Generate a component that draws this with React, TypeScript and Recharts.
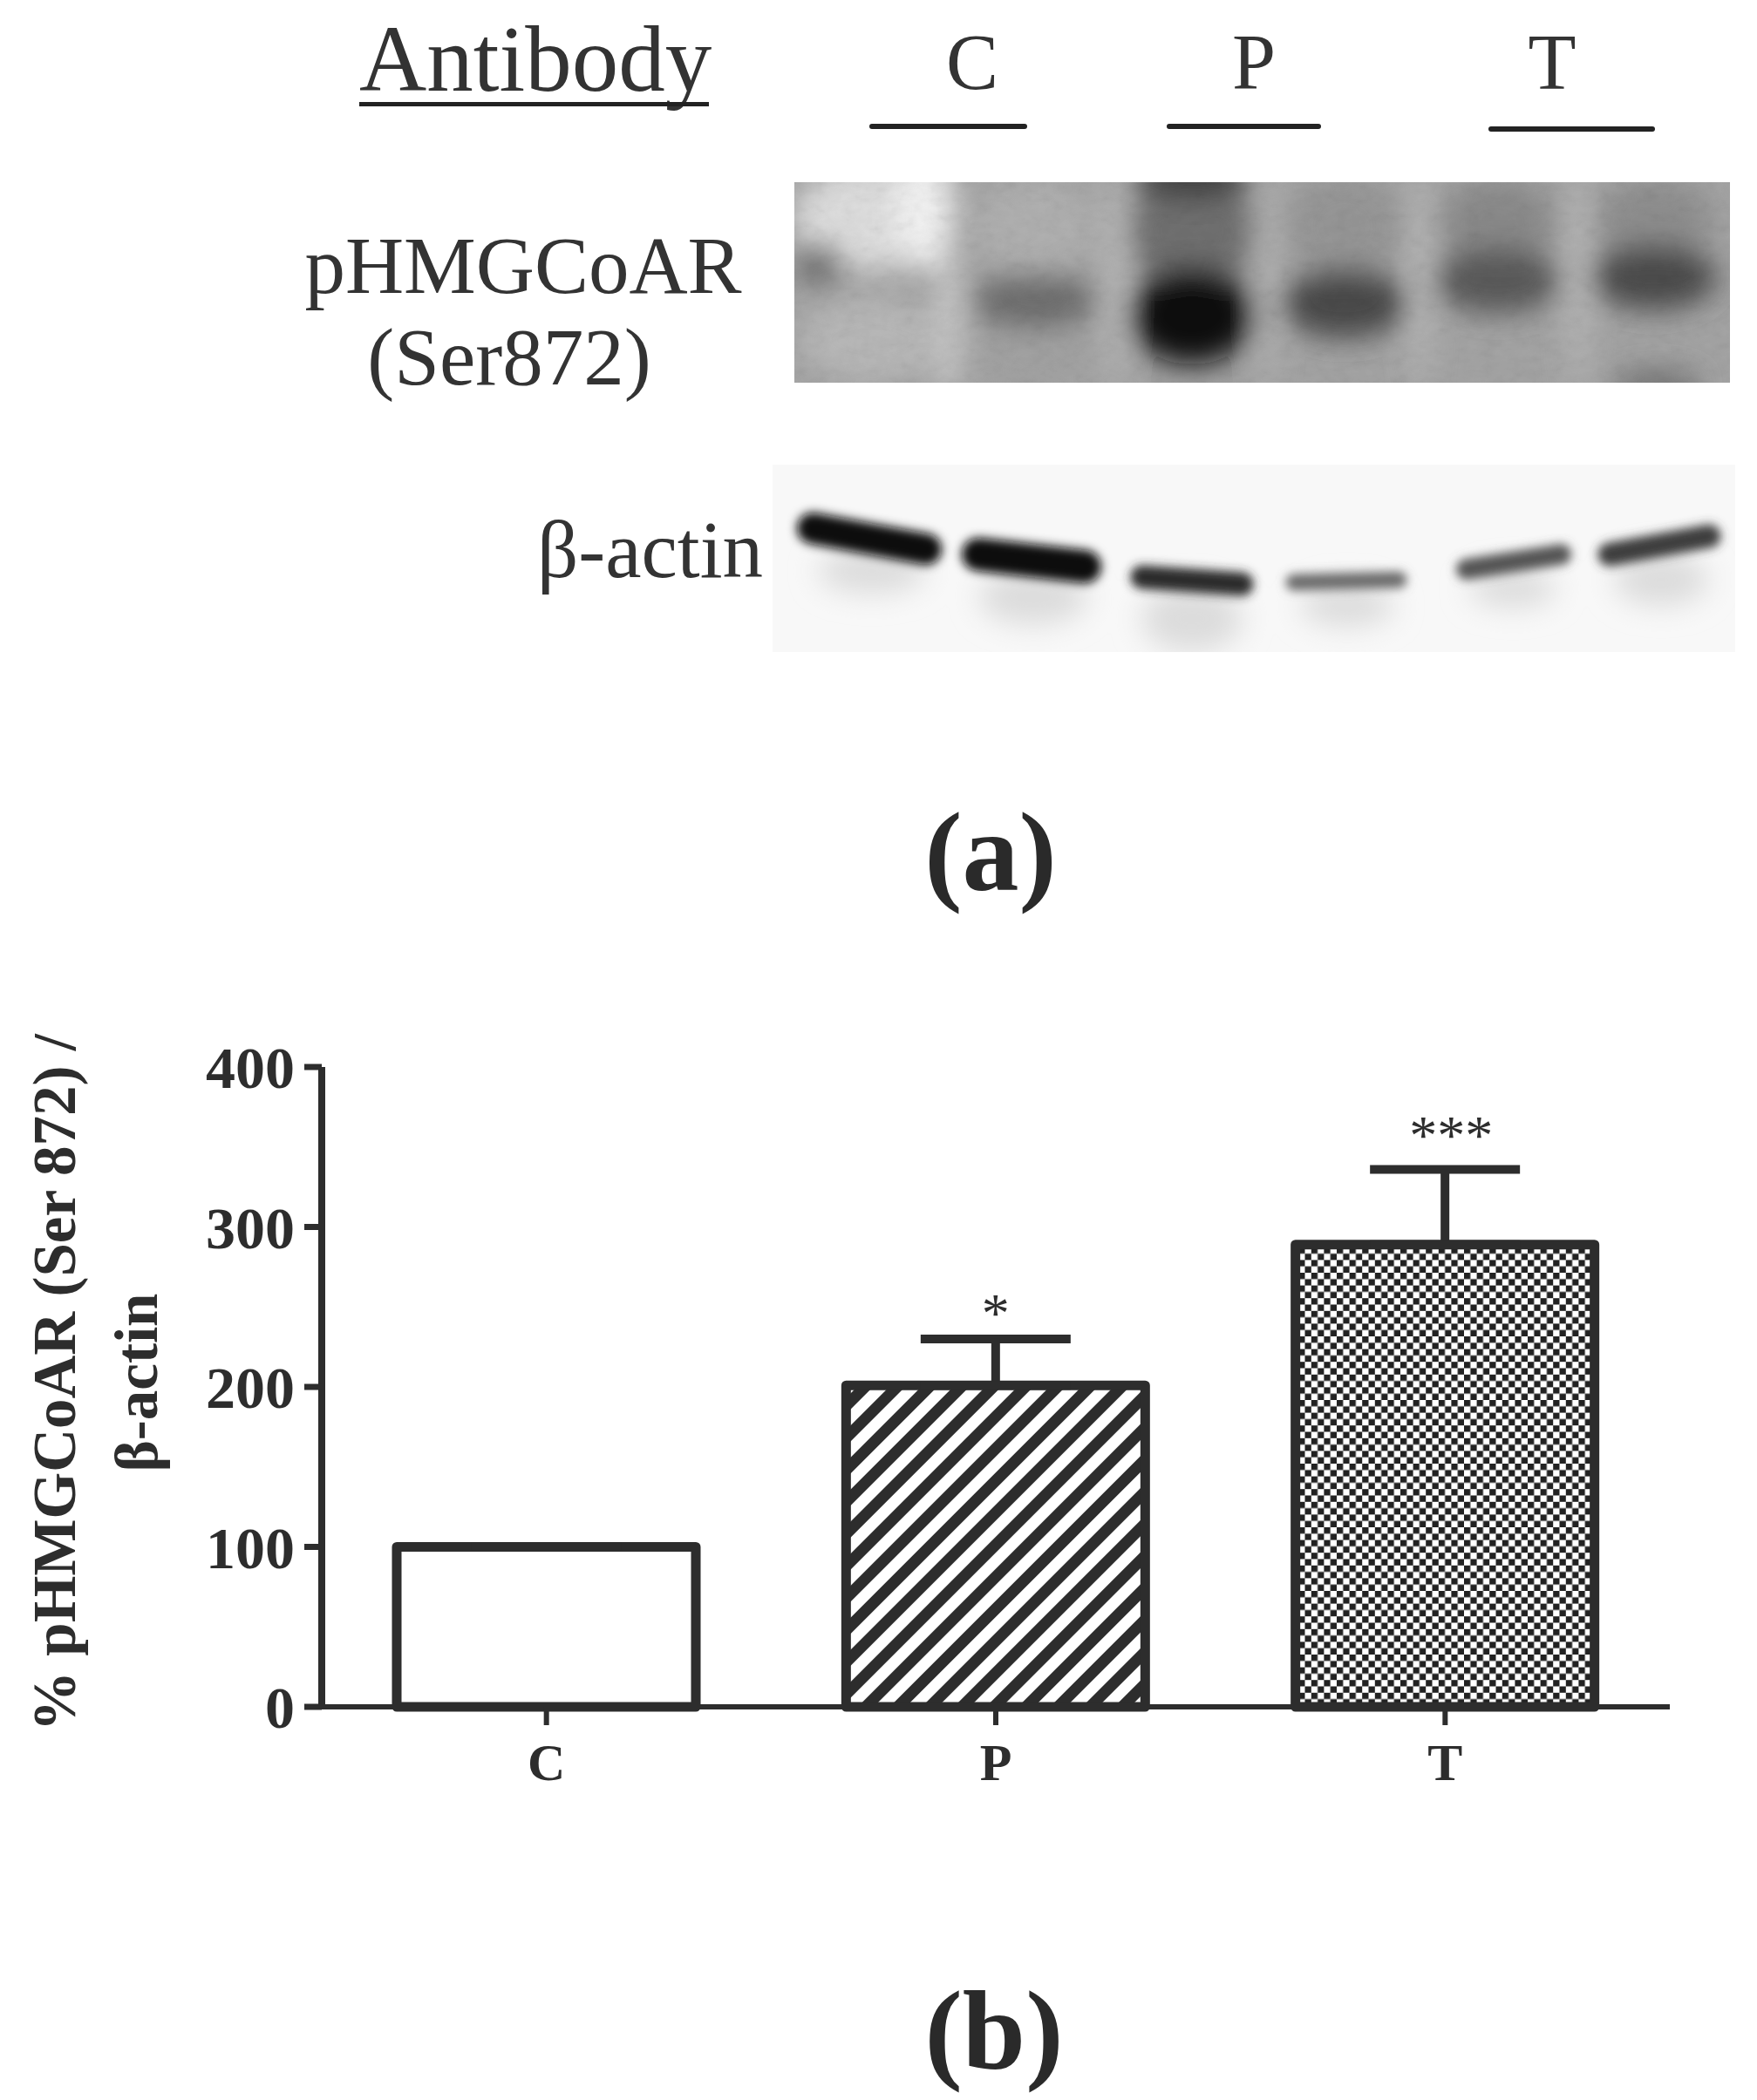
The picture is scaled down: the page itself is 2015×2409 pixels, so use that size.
import React from 'react';
import { BarChart, Bar, Cell, ErrorBar, XAxis, YAxis, Label, LabelList } from 'recharts';

const categories = ['C', 'P', 'T'];
const ratioValues = [100, 201, 289];
const ratioErrors = [0, 29, 47];
const significance = ['', '*', '***'];
const yTicks = [0, 100, 200, 300, 400];

const chartData = categories.map((name, i) => ({
  name,
  value: ratioValues[i],
  err: [0, ratioErrors[i]],
  sig: significance[i],
}));

const INK = '#2d2d2d';
const SERIF = '"Liberation Serif", serif';
const fills = ['#ffffff', 'url(#stripes)', 'url(#checks)'];

// blot artwork, not data
const pBlotBlobs = [
  [1000, 250, 90, 60, '#dedede'],
  [1060, 240, 34, 70, '#f2f2f2'],
  [1088, 370, 14, 90, '#cfcfcf'],
  [1000, 390, 85, 50, '#b8b8b8'],
  [1186, 260, 70, 55, '#b0b0b0'],
  [940, 303, 26, 24, '#6c6c6c'],
  [1186, 345, 72, 32, '#6e6e6e'],
  [1186, 410, 72, 24, '#a2a2a2'],
  [1367, 265, 70, 70, '#6f6f6f'],
  [1367, 205, 68, 22, '#3a3a3a'],
  [1367, 362, 72, 56, '#0e0e0e'],
  [1542, 260, 66, 60, '#969696'],
  [1542, 348, 72, 40, '#4a4a4a'],
  [1717, 255, 66, 50, '#8a8a8a'],
  [1717, 322, 72, 38, '#5a5a5a'],
  [1897, 255, 66, 50, '#8e8e8e'],
  [1897, 318, 72, 38, '#4c4c4c'],
  [1900, 440, 50, 14, '#6a6a6a'],
  [1279, 320, 8, 130, '#c8c8c8'],
  [1454, 320, 7, 130, '#c0c0c0'],
  [1629, 320, 8, 130, '#c6c6c6'],
  [1810, 320, 8, 130, '#c6c6c6'],
] as const;

const actinBands = [
  [932, 606, 1062, 630, 36, '#0a0a0a'],
  [1122, 636, 1244, 650, 38, '#0a0a0a'],
  [1310, 662, 1424, 670, 27, '#2a2a2a'],
  [1484, 668, 1604, 665, 19, '#6a6a6a'],
  [1682, 653, 1790, 636, 24, '#555555'],
  [1846, 636, 1960, 615, 27, '#3c3c3c'],
] as const;

const actinSmears = [
  [1000, 655, 62, 26],
  [1185, 685, 62, 32],
  [1367, 710, 58, 38],
  [1545, 695, 54, 24],
  [1735, 675, 50, 22],
  [1905, 665, 54, 30],
] as const;

const laneLabels = [
  { text: 'C', x: 1115, lineX1: 1000, lineX2: 1175, lineY: 145 },
  { text: 'P', x: 1438, lineX1: 1341, lineX2: 1512, lineY: 145 },
  { text: 'T', x: 1780, lineX1: 1710, lineX2: 1895, lineY: 148 },
];

const StarLabel = (props: any) => {
  const { x, y, width, index } = props;
  const sig = significance[index];
  if (!sig) return null;
  const errPx = (ratioErrors[index] / 400) * 734;
  const gap = index === 2 ? 17 : 8;
  const shift = index === 2 ? 7 : 0;
  return (
    <text x={x + width / 2 + shift} y={y - errPx - gap} textAnchor="middle" fontFamily={SERIF} fontSize={64} fill={INK}>
      {sig}
    </text>
  );
};

const YTitle = () => (
  <g fontFamily={SERIF} fontWeight="bold" fontSize={69} fill={INK} textAnchor="middle">
    <text transform="translate(86,1586) rotate(-90)">% pHMGCoAR (Ser 872) /</text>
    <text transform="translate(180,1586) rotate(-90)">β-actin</text>
  </g>
);

const Annotations = () => (
  <svg width={2015} height={2409} style={{ position: 'absolute', left: 0, top: 0 }} fontFamily={SERIF} fill="#333333">
    <defs>
      <filter id="blur18" x="-50%" y="-50%" width="200%" height="200%"><feGaussianBlur stdDeviation="16" /></filter>
      <filter id="blur6" x="-20%" y="-100%" width="140%" height="300%"><feGaussianBlur stdDeviation="6" /></filter>
      <filter id="grain" x="0" y="0" width="100%" height="100%">
        <feTurbulence type="fractalNoise" baseFrequency="0.06 0.09" numOctaves={3} seed={7} />
        <feColorMatrix type="saturate" values="0" />
      </filter>
      <clipPath id="pClip"><rect x={911} y={209} width={1073} height={230} /></clipPath>
      <clipPath id="aClip"><rect x={886} y={533} width={1104} height={215} /></clipPath>
    </defs>

    <text x={412} y={104} fontSize={107}>Antibody</text>
    <rect x={412} y={117} width={401} height={5} fill="#222" />
    {laneLabels.map((l) => (
      <g key={l.text}>
        <text x={l.x} y={102} fontSize={90} textAnchor="middle">{l.text}</text>
        <line x1={l.lineX1} x2={l.lineX2} y1={l.lineY} y2={l.lineY} stroke="#222" strokeWidth={6} strokeLinecap="round" />
      </g>
    ))}

    <text x={600} y={336} fontSize={93} textAnchor="middle">pHMGCoAR</text>
    <text x={584} y={441} fontSize={93} textAnchor="middle">(Ser872)</text>
    <text x={875} y={662} fontSize={93} textAnchor="end">β-actin</text>

    <g clipPath="url(#pClip)">
      <rect x={911} y={209} width={1073} height={230} fill="#a4a4a4" />
      <g filter="url(#blur18)">
        {pBlotBlobs.map(([cx, cy, rx, ry, fill], i) => (
          <ellipse key={i} cx={cx} cy={cy} rx={rx} ry={ry} fill={fill} />
        ))}
      </g>
      <rect x={911} y={209} width={1073} height={230} filter="url(#grain)" opacity={0.16} style={{ mixBlendMode: 'multiply' }} />
    </g>

    <g clipPath="url(#aClip)">
      <rect x={886} y={533} width={1104} height={215} fill="#f8f8f8" />
      <g filter="url(#blur18)">
        {actinSmears.map(([cx, cy, rx, ry], i) => (
          <ellipse key={i} cx={cx} cy={cy} rx={rx} ry={ry} fill="#dcdcdc" />
        ))}
      </g>
      <g filter="url(#blur6)">
        {actinBands.map(([x1, y1, x2, y2, w, c], i) => (
          <line key={i} x1={x1} y1={y1} x2={x2} y2={y2} stroke={c} strokeWidth={w} strokeLinecap="round" />
        ))}
      </g>
    </g>

    <text x={1136} y={1021} fontSize={130} fontWeight="bold" textAnchor="middle" fill="#2a2a2a">(a)</text>
    <text x={1140} y={2373} fontSize={130} fontWeight="bold" textAnchor="middle" fill="#2a2a2a">(b)</text>
  </svg>
);

export default function App() {
  return (
    <div style={{ position: 'absolute', left: 0, top: 0, width: 2015, height: 2409, background: '#fff' }}>
      <Annotations />
      <div style={{ position: 'absolute', left: 0, top: 0 }}>
        <BarChart
          width={2015}
          height={2409}
          data={chartData}
          margin={{ top: 1224, right: 100, bottom: 0, left: 0 }}
          barSize={343}
        >
          <defs>
            <pattern id="stripes" width="26" height="26" patternUnits="userSpaceOnUse" patternTransform="rotate(45)">
              <rect width="26" height="26" fill="#fff" />
              <rect width="13" height="26" fill={INK} />
            </pattern>
            <pattern id="checks" width="14.6" height="14.6" patternUnits="userSpaceOnUse">
              <rect width="14.6" height="14.6" fill="#fff" />
              <rect width="7.3" height="7.3" fill="#222" />
              <rect x="7.3" y="7.3" width="7.3" height="7.3" fill="#222" />
            </pattern>
          </defs>
          <XAxis
            dataKey="name"
            interval={0}
            height={451}
            tickSize={21}
            tickMargin={20}
            axisLine={{ stroke: INK, strokeWidth: 6 }}
            tickLine={{ stroke: INK, strokeWidth: 6 }}
            tick={{ fontFamily: SERIF, fontWeight: 'bold', fontSize: 60, fill: INK }}
          />
          <YAxis
            width={369}
            domain={[0, 400]}
            ticks={yTicks}
            tickSize={20}
            tickMargin={11}
            axisLine={{ stroke: INK, strokeWidth: 8 }}
            tickLine={{ stroke: INK, strokeWidth: 7 }}
            tick={{ fontFamily: SERIF, fontWeight: 'bold', fontSize: 68, fill: INK }}
          >
            <Label content={<YTitle />} />
          </YAxis>
          <Bar dataKey="value" stroke={INK} strokeWidth={11} strokeLinejoin="round" isAnimationActive={false}>
            {chartData.map((d, i) => (
              <Cell key={d.name} fill={fills[i]} />
            ))}
            <ErrorBar dataKey="err" direction="y" width={86} stroke={INK} strokeWidth={10} isAnimationActive={false} />
            <LabelList dataKey="sig" content={<StarLabel />} />
          </Bar>
        </BarChart>
      </div>
    </div>
  );
}
